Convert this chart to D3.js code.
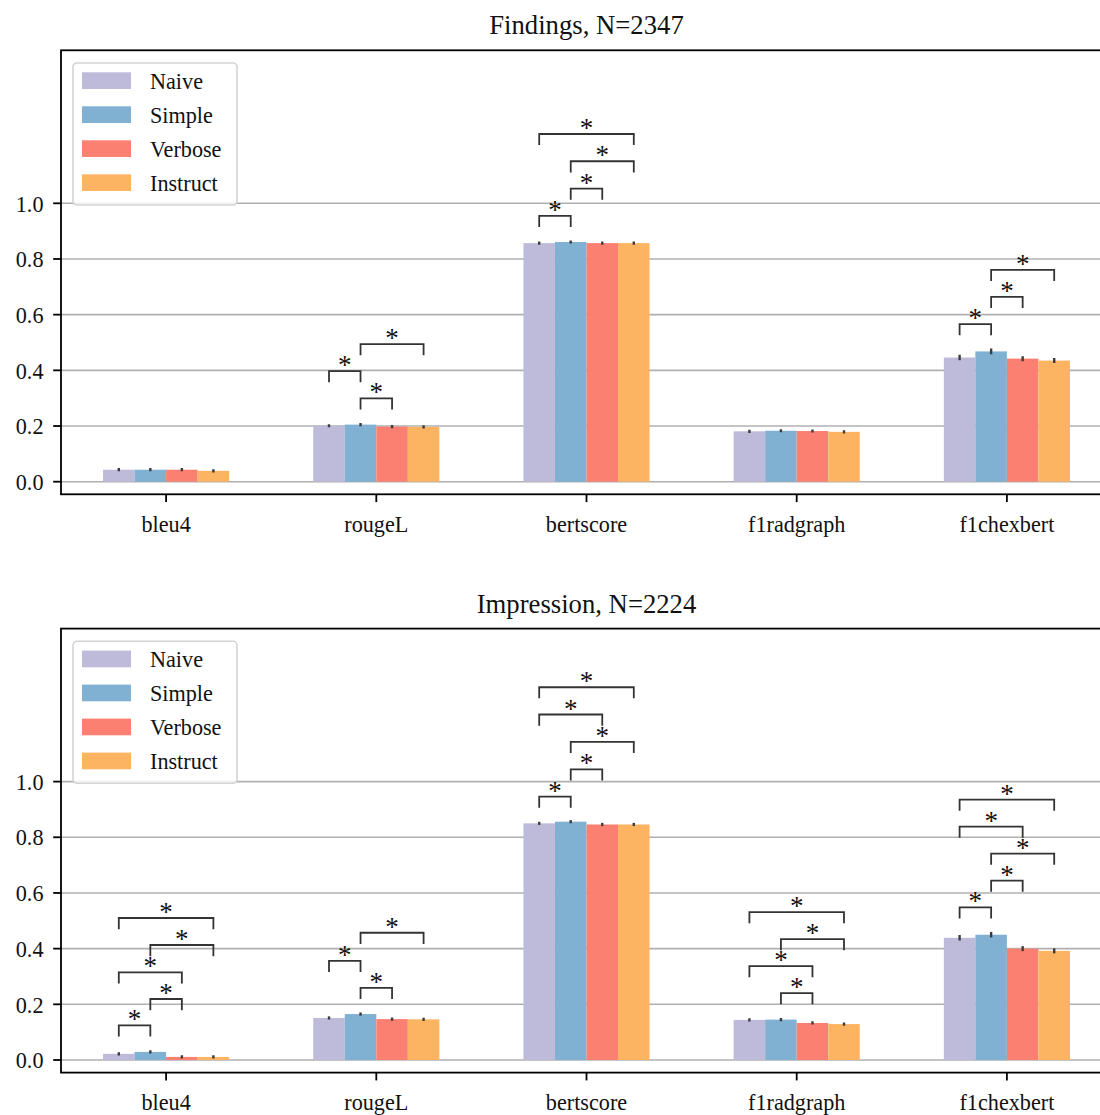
<!DOCTYPE html>
<html>
<head>
<meta charset="utf-8">
<script src="https://cdn.jsdelivr.net/npm/d3@7"></script>
<style>
  html, body { margin: 0; padding: 0; background: #fff; }
  svg text { font-family: "Liberation Serif", "Times New Roman", serif; fill: #111; }
</style>
</head>
<body>
<svg id="chart" width="1100" height="1115"></svg>
<script>
// Metrics on the x axis and the prompt variants compared for each metric
const metrics = ["bleu4", "rougeL", "bertscore", "f1radgraph", "f1chexbert"];
const prompts = ["Naive", "Simple", "Verbose", "Instruct"];
const promptColors = ["#bebada", "#80b1d3", "#fb8072", "#fdb462"];
const yTicks = [0.0, 0.2, 0.4, 0.6, 0.8, 1.0];

// Findings section: mean score per prompt (rows) and metric (columns)
const findingsMeans = [
  [0.043, 0.201, 0.857, 0.181, 0.446],
  [0.043, 0.205, 0.861, 0.183, 0.468],
  [0.043, 0.198, 0.857, 0.182, 0.442],
  [0.039, 0.197, 0.857, 0.179, 0.435]
];
const findingsErrors = [
  [0.002, 0.003, 0.002, 0.004, 0.010],
  [0.002, 0.003, 0.002, 0.004, 0.010],
  [0.002, 0.003, 0.002, 0.004, 0.009],
  [0.002, 0.003, 0.002, 0.004, 0.009]
];
// Significance brackets: [metric index, prompt a, prompt b, bracket height]
const findingsBrackets = [
  [1, 0, 1, 0.397], [1, 1, 2, 0.299], [1, 1, 3, 0.494],
  [2, 0, 1, 0.955], [2, 1, 2, 1.053], [2, 1, 3, 1.151], [2, 0, 3, 1.249],
  [4, 0, 1, 0.566], [4, 1, 2, 0.664], [4, 1, 3, 0.761]
];

// Impression section
const impressionMeans = [
  [0.022, 0.151, 0.850, 0.144, 0.439],
  [0.029, 0.165, 0.856, 0.145, 0.450],
  [0.011, 0.147, 0.846, 0.133, 0.400],
  [0.011, 0.146, 0.846, 0.129, 0.392]
];
const impressionErrors = [
  [0.004, 0.004, 0.002, 0.006, 0.010],
  [0.005, 0.005, 0.002, 0.006, 0.010],
  [0.002, 0.004, 0.002, 0.005, 0.009],
  [0.002, 0.004, 0.002, 0.005, 0.009]
];
const impressionBrackets = [
  [0, 0, 1, 0.124], [0, 1, 2, 0.219], [0, 0, 2, 0.315], [0, 1, 3, 0.413], [0, 0, 3, 0.510],
  [1, 0, 1, 0.356], [1, 1, 2, 0.259], [1, 1, 3, 0.457],
  [2, 0, 1, 0.946], [2, 1, 2, 1.044], [2, 1, 3, 1.143], [2, 0, 2, 1.241], [2, 0, 3, 1.339],
  [3, 1, 2, 0.240], [3, 0, 2, 0.337], [3, 1, 3, 0.434], [3, 0, 3, 0.531],
  [4, 0, 1, 0.548], [4, 1, 2, 0.644], [4, 1, 3, 0.741], [4, 0, 2, 0.838], [4, 0, 3, 0.935]
];

const panels = [
  { title: "Findings, N=2347", means: findingsMeans, errors: findingsErrors, brackets: findingsBrackets, top: 50.3 },
  { title: "Impression, N=2224", means: impressionMeans, errors: impressionErrors, brackets: impressionBrackets, top: 628.6 }
];

const svg = d3.select("#chart");
const axLeft = 61, axRight = 1112, axHeight = 444;
const barW = 0.15, legLen = 0.04;
const tickFont = 22.2, titleFont = 26.7, starFont = 27;

const x = d3.scaleLinear().domain([-0.5, metrics.length - 0.5]).range([axLeft, axRight]);
const barOffset = i => (i - (prompts.length - 1) / 2) * barW;

panels.forEach((p, pi) => {
  const g = svg.append("g");
  const y = d3.scaleLinear().domain([-0.0453, 1.5496]).range([p.top + axHeight, p.top]);

  const clipId = "clip" + pi;
  svg.append("clipPath").attr("id", clipId).append("rect")
    .attr("x", axLeft).attr("y", p.top).attr("width", axRight - axLeft).attr("height", axHeight);
  const plot = g.append("g").attr("clip-path", `url(#${clipId})`);

  // horizontal grid
  plot.selectAll("line.grid").data(yTicks).join("line")
    .attr("class", "grid")
    .attr("x1", axLeft).attr("x2", axRight)
    .attr("y1", d => y(d)).attr("y2", d => y(d))
    .attr("stroke", "#b0b0b0").attr("stroke-width", 1.6);

  // bars
  const barData = [];
  p.means.forEach((row, pi2) => row.forEach((v, mi) => barData.push({ pi: pi2, mi, v, e: p.errors[pi2][mi] })));
  plot.selectAll("rect.bar").data(barData).join("rect")
    .attr("class", "bar")
    .attr("x", d => x(d.mi + barOffset(d.pi) - barW / 2))
    .attr("width", d => x(d.mi + barOffset(d.pi) + barW / 2) - x(d.mi + barOffset(d.pi) - barW / 2))
    .attr("y", d => y(d.v))
    .attr("height", d => y(0) - y(d.v))
    .attr("fill", d => promptColors[d.pi]);

  // error bars (kept at least a few pixels tall so tiny intervals stay visible)
  const half = d => Math.max((y(d.v - d.e) - y(d.v + d.e)) / 2, 1.6);
  plot.selectAll("line.err").data(barData).join("line")
    .attr("class", "err")
    .attr("x1", d => x(d.mi + barOffset(d.pi))).attr("x2", d => x(d.mi + barOffset(d.pi)))
    .attr("y1", d => y(d.v) + half(d)).attr("y2", d => y(d.v) - half(d))
    .attr("stroke", "#3c3c3c").attr("stroke-width", 2.4);

  // significance brackets
  const br = plot.selectAll("g.bracket").data(p.brackets).join("g").attr("class", "bracket");
  br.append("path")
    .attr("d", d => {
      const xa = x(d[0] + barOffset(d[1])), xb = x(d[0] + barOffset(d[2]));
      return `M${xa},${y(d[3] - legLen)}V${y(d[3])}H${xb}V${y(d[3] - legLen)}`;
    })
    .attr("fill", "none").attr("stroke", "#333").attr("stroke-width", 1.8);
  br.append("text")
    .attr("x", d => (x(d[0] + barOffset(d[1])) + x(d[0] + barOffset(d[2]))) / 2)
    .attr("y", d => y(d[3]) + 3)
    .attr("text-anchor", "middle")
    .attr("font-size", starFont)
    .text("*");

  // spines
  g.append("rect")
    .attr("x", axLeft).attr("y", p.top).attr("width", axRight - axLeft).attr("height", axHeight)
    .attr("fill", "none").attr("stroke", "#000").attr("stroke-width", 1.8);

  // y axis ticks and labels
  g.selectAll("line.ytick").data(yTicks).join("line")
    .attr("x1", axLeft - 7.8).attr("x2", axLeft)
    .attr("y1", d => y(d)).attr("y2", d => y(d))
    .attr("stroke", "#000").attr("stroke-width", 1.8);
  g.selectAll("text.ylab").data(yTicks).join("text")
    .attr("x", axLeft - 17.5).attr("y", d => y(d) + 8.2)
    .attr("text-anchor", "end").attr("font-size", tickFont)
    .text(d => d3.format(".1f")(d));

  // x axis ticks and labels
  const yBot = p.top + axHeight;
  g.selectAll("line.xtick").data(metrics).join("line")
    .attr("x1", (d, i) => x(i)).attr("x2", (d, i) => x(i))
    .attr("y1", yBot).attr("y2", yBot + 7.8)
    .attr("stroke", "#000").attr("stroke-width", 1.8);
  g.selectAll("text.xlab").data(metrics).join("text")
    .attr("x", (d, i) => x(i)).attr("y", yBot + 37.4)
    .attr("text-anchor", "middle").attr("font-size", tickFont)
    .text(d => d);

  // title
  g.append("text")
    .attr("x", (axLeft + axRight) / 2).attr("y", p.top - 16)
    .attr("text-anchor", "middle").attr("font-size", titleFont)
    .text(p.title);

  // legend
  const lg = g.append("g").attr("transform", `translate(73,${p.top + 12.7})`);
  lg.append("rect")
    .attr("width", 164).attr("height", 142).attr("rx", 4)
    .attr("fill", "#fff").attr("fill-opacity", 0.8)
    .attr("stroke", "#d4d4d4").attr("stroke-width", 1.6);
  const items = lg.selectAll("g.item").data(prompts).join("g")
    .attr("transform", (d, i) => `translate(0,${17.6 + i * 34})`);
  items.append("rect")
    .attr("x", 9).attr("y", -8.3).attr("width", 49).attr("height", 16.7)
    .attr("fill", (d, i) => promptColors[i]);
  items.append("text")
    .attr("x", 77).attr("y", 8).attr("font-size", tickFont)
    .text(d => d);
});
</script>
</body>
</html>
